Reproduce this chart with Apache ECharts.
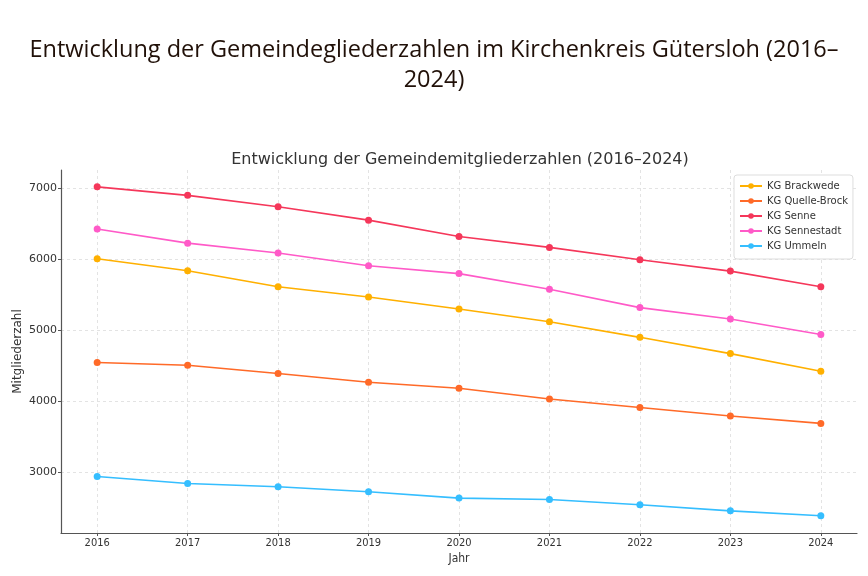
<!DOCTYPE html>
<html>
<head>
<meta charset="utf-8">
<script src="https://cdn.jsdelivr.net/npm/echarts@6/dist/echarts.min.js"></script>
<style>html,body{margin:0;padding:0;background:#fff;}#c{width:868px;height:576px;}</style>
</head>
<body>
<div id="c"></div>
<script>
const years = [2016, 2017, 2018, 2019, 2020, 2021, 2022, 2023, 2024];
const yTicks = [3000, 4000, 5000, 6000, 7000];
const brackwede = [6010, 5840, 5615, 5470, 5300, 5120, 4900, 4670, 4420];
const quelleBrock = [4545, 4505, 4390, 4265, 4180, 4030, 3910, 3790, 3685];
const senne = [7025, 6905, 6745, 6555, 6325, 6170, 5995, 5835, 5615];
const sennestadt = [6430, 6230, 6090, 5910, 5800, 5580, 5320, 5160, 4940];
const ummeln = [2935, 2835, 2790, 2720, 2630, 2610, 2535, 2450, 2380];
const seriesNames = ['KG Brackwede', 'KG Quelle-Brock', 'KG Senne', 'KG Sennestadt', 'KG Ummeln'];
const colors = ['#FFB000', '#FF6A28', '#F5375A', '#FF5AC8', '#35BEFF'];

const allData = [brackwede, quelleBrock, senne, sennestadt, ummeln];
const font = 'DejaVu Sans';
const narrow = "'DejaVu Sans Condensed', 'Liberation Sans Narrow', 'Roboto Condensed', 'DejaVu Sans'";

const chart = echarts.init(document.getElementById('c'), null, {renderer: 'canvas'});
chart.setOption({
  backgroundColor: '#fff',
  animation: false,
  color: colors,
  title: [
    {
      text: 'Entwicklung der Gemeindegliederzahlen im Kirchenkreis Gütersloh (2016–\n2024)',
      left: 'center', top: 30,
      textStyle: {fontFamily: 'Open Sans', fontSize: 23.5, fontWeight: 'normal', color: '#201008', lineHeight: 30, align: 'center'}
    },
    {
      text: 'Entwicklung der Gemeindemitgliederzahlen (2016–2024)',
      left: 455, top: 147, textAlign: 'center',
      textStyle: {fontFamily: font, fontSize: 16, fontWeight: 'normal', color: '#333'}
    }
  ],
  legend: {
    orient: 'vertical', left: 734, top: 175,
    padding: [6, 5, 8, 5],
    backgroundColor: '#fff', borderColor: '#dddddd', borderWidth: 1, borderRadius: 3,
    itemWidth: 22, itemHeight: 7, itemGap: 5,
    textStyle: {fontFamily: font, fontSize: 10, color: '#333'},
    data: seriesNames
  },
  grid: {left: 61, right: 11, top: 170, bottom: 43, containLabel: false, outerBoundsMode: 'none'},
  xAxis: {
    type: 'value', min: 2015.6, max: 2024.4,
    name: 'Jahr', nameLocation: 'middle', nameGap: 20, nameMoveOverlap: false,
    nameTextStyle: {fontFamily: narrow, fontSize: 12, color: '#333'},
    axisLine: {show: true, lineStyle: {color: '#555', width: 1.2}},
    axisTick: {show: true, inside: false, length: 3, customValues: years, lineStyle: {color: '#555'}},
    axisLabel: {customValues: years, fontFamily: narrow, fontSize: 11, color: '#333', margin: 5, formatter: v => String(v)},
    splitLine: {show: true, lineStyle: {color: '#dcdcdc', type: [3, 3], width: 0.8}}
  },
  yAxis: {
    type: 'value', min: 2137, max: 7263,
    name: 'Mitgliederzahl', nameLocation: 'middle', nameGap: 37, nameRotate: 90, nameMoveOverlap: false,
    nameTextStyle: {fontFamily: font, fontSize: 12, color: '#333'},
    axisLine: {show: true, lineStyle: {color: '#555', width: 1.2}},
    axisTick: {show: true, length: 3, customValues: yTicks, lineStyle: {color: '#555'}},
    axisLabel: {customValues: yTicks, fontFamily: font, fontSize: 11, color: '#333', margin: 4, formatter: v => String(v)},
    splitLine: {show: true, lineStyle: {color: '#dcdcdc', type: [3, 3], width: 0.8}}
  },
  series: seriesNames.map((n, i) => ({
    name: n, type: 'line',
    data: years.map((y, j) => [y, allData[i][j]]),
    symbol: 'circle', symbolSize: 7,
    lineStyle: {width: 1.6, color: colors[i]},
    itemStyle: {color: colors[i]}
  }))
});
</script>
</body>
</html>
